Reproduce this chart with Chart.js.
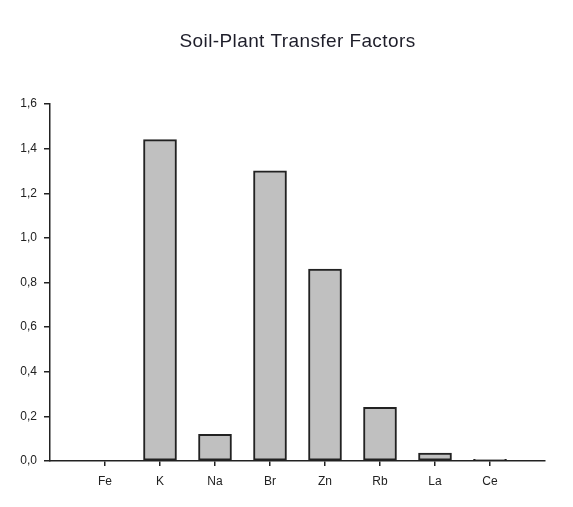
<!DOCTYPE html>
<html>
<head>
<meta charset="utf-8">
<script src="https://cdn.jsdelivr.net/npm/chart.js@4"></script>
<style>
html,body{margin:0;padding:0;background:#fff;}
#wrap{width:573px;height:507px;}
</style>
</head>
<body>
<div id="wrap"><canvas id="chart"></canvas></div>
<script>

/* DATA */

const title="Soil-Plant Transfer Factors";
const elements=["Fe","K","Na","Br","Zn","Rb","La","Ce"];
const factors=[null,1.44,0.12,1.30,0.86,0.24,0.035,0.008];
const yTicks=[0,0.2,0.4,0.6,0.8,1.0,1.2,1.4,1.6];

const font="'Liberation Sans', Arial, sans-serif";


/* TITLE PLUGIN */

const titlePlugin={
id:"centerTitle",
afterDraw(chart){
const ctx=chart.ctx;
const a=chart.chartArea;
ctx.save();
ctx.font="19px "+font;
ctx.letterSpacing="0.4px";
ctx.fillStyle="#1e1e2a";
ctx.textAlign="center";
ctx.textBaseline="middle";
ctx.fillText(title,(a.left+a.right)/2,42);
ctx.restore();
}
};


/* CREATE CHART */

new Chart(document.getElementById("chart"),{

type:"bar",

data:{
datasets:[{
label:title,
data:elements.map((e,i)=>({x:i+1,y:factors[i]})),
backgroundColor:"#c0c0c0",
borderColor:"#222",
borderWidth:2,
borderSkipped:false,
barThickness:33
}]
},

plugins:[titlePlugin],

options:{
responsive:true,
maintainAspectRatio:false,
animation:false,
layout:{padding:{top:104,right:28,left:0,bottom:0}},

plugins:{
legend:{display:false},
tooltip:{enabled:false}
},

scales:{
x:{
type:"linear",
min:0,
max:9,
offset:false,
afterBuildTicks(scale){
scale.ticks=elements.map((e,i)=>({value:i+1}));
},
afterFit(scale){
scale.height=46;
},
grid:{display:true,offset:false,drawOnChartArea:false,drawTicks:true,tickLength:5,color:"#222",lineWidth:1.5},
border:{display:true,color:"#222",width:1.5},
ticks:{
padding:8,
color:"#222",
font:{family:font,size:12},
maxRotation:0,
callback:(v)=>elements[v-1]||""
}
},

y:{
min:0,
max:1.6,
afterBuildTicks(scale){
scale.ticks=yTicks.map(v=>({value:v}));
},
afterFit(scale){
scale.width=50;
},
grid:{display:true,drawOnChartArea:false,drawTicks:true,tickLength:6,color:"#222",lineWidth:1.5},
border:{display:true,color:"#222",width:1.5},
ticks:{
padding:7,
color:"#222",
font:{family:font,size:12},
callback:(v)=>v.toFixed(1).replace(".",",")
}
}
}

}

});

</script>
</body>
</html>
